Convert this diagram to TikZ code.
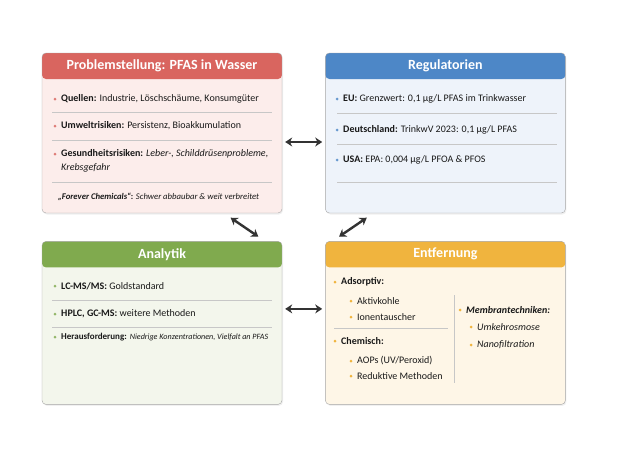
\documentclass[tikz,border=0pt]{standalone}
\usepackage{fontspec}
\setmainfont{Carlito}
\usetikzlibrary{arrows.meta,positioning,shadows}

\definecolor{probHd}{HTML}{D9655F}
\definecolor{probBd}{HTML}{FCEDEB}
\definecolor{regHd}{HTML}{4D87C7}
\definecolor{regBd}{HTML}{EEF3FA}
\definecolor{anaHd}{HTML}{80AA4E}
\definecolor{anaBd}{HTML}{F3F6EC}
\definecolor{entHd}{HTML}{F0B43E}
\definecolor{entBd}{HTML}{FEF6E7}

\begin{document}
\begin{tikzpicture}[x=1pt, y=-1pt, font=\fontsize{10}{12}\selectfont, node distance=28pt and 43pt,
  panel/.style n args={2}{draw=black!35, rounded corners=4pt, minimum width=240pt, minimum height=160pt, fill=#1,
    drop shadow={opacity=0.12, shadow xshift=1pt, shadow yshift=-1.5pt},
    path picture={\fill[#2] (path picture bounding box.north west) rectangle ([yshift=-26pt]path picture bounding box.north east);}},
  ttl/.style={text=white, font=\fontsize{14}{16}\selectfont\bfseries},
  itm/.style={anchor=west, inner sep=0pt, text=black!90},
  sep/.style={draw=black!22, line width=0.6pt},
  dbl/.style={{Stealth[length=7pt,width=9pt]}-{Stealth[length=7pt,width=9pt]}, line width=2.4pt, draw=black!80}]
\useasboundingbox (0,0) rectangle (619,450);

% panels
\node[panel={probBd}{probHd}] (prob) at (162,133) {};
\node[panel={regBd}{regHd}, right=of prob] (reg) {};
\node[panel={anaBd}{anaHd}, minimum height=163pt, below=of prob] (ana) {};
\node[panel={entBd}{entHd}, minimum height=163pt, below=of reg] (ent) {};

\node[ttl] (probT) at ([yshift=-13pt]prob.north) {Problemstellung: PFAS in Wasser};
\node[ttl] (regT) at ([yshift=-13pt]reg.north) {Regulatorien};
\node[ttl] (anaT) at ([yshift=-13pt]ana.north) {Analytik};
\node[ttl] (entT) at ([yshift=-13pt]ent.north) {Entfernung};

% Problemstellung
\foreach \y in {112,140,182} \draw[sep] (52,\y) -- (272,\y);
\foreach \n/\y/\t in {q1/99/{\textbf{Quellen:} Industrie, Löschschäume, Konsumgüter},
    q2/126/{\textbf{Umweltrisiken:} Persistenz, Bioakkumulation},
    q3/154/{\textbf{Gesundheitsrisiken:} \textit{Leber-, Schilddrüsenprobleme,}}}
  {\node[itm] (\n) at (61,\y) {\t};
   \fill[probHd!85] ([xshift=-6pt]\n.west) circle (1.5pt);}
\node[itm] (q4) at (61,168) {\textit{Krebsgefahr}};
\node[itm, font=\fontsize{8.7}{10}\selectfont] (q5) at (58,197)
  {\textbf{\textit{„Forever Chemicals“}:} \textit{Schwer abbaubar \& weit verbreitet}};

% Regulatorien
\foreach \y in {113,144,182} \draw[sep] (337,\y) -- (557,\y);
\foreach \n/\y/\t in {r1/99/{\textbf{EU:} Grenzwert: 0,1 µg/L PFAS im Trinkwasser},
    r2/130/{\textbf{Deutschland:} TrinkwV 2023: 0,1 µg/L PFAS},
    r3/160/{\textbf{USA:} EPA: 0,004 µg/L PFOA \& PFOS}}
  {\node[itm] (\n) at (343,\y) {\t};
   \fill[regHd!85] ([xshift=-6pt]\n.west) circle (1.5pt);}

% Analytik
\foreach \y in {300,327} \draw[sep] (52,\y) -- (272,\y);
\foreach \n/\y/\t in {a1/286/{\textbf{LC-MS/MS:} Goldstandard},
    a2/314/{\textbf{HPLC, GC-MS:} weitere Methoden},
    a3/337/{{\fontsize{9}{10}\selectfont\textbf{Herausforderung:}} {\fontsize{8.1}{10}\selectfont\textit{Niedrige Konzentrationen, Vielfalt an PFAS}}}}
  {\node[itm] (\n) at (61,\y) {\t};
   \fill[anaHd!85] ([xshift=-6pt]\n.west) circle (1.5pt);}

% Entfernung
\draw[sep] (334,328) -- (448,328);
\draw[sep] (454,295) -- (454,383);
\foreach \n/\x/\y/\t in {e1/341/282/{\textbf{Adsorptiv:}},
    e2/357/301/{Aktivkohle},
    e3/357/317/{Ionentauscher},
    e4/341/341/{\textbf{Chemisch:}},
    e5/357/361/{AOPs (UV/Peroxid)},
    e6/357/376/{Reduktive Methoden},
    e7/466/310/{\textbf{\textit{Membrantechniken:}}},
    e8/477/327/{\textit{Umkehrosmose}},
    e9/477/345/{\textit{Nanofiltration}}}
  {\node[itm] (\n) at (\x,\y) {\t};
   \fill[entHd] ([xshift=-6pt]\n.west) circle (1.5pt);}

% connectors
\draw[dbl, shorten <=3pt, shorten >=3pt] ([yshift=-9pt]prob.east) -- ([yshift=-9pt]reg.west);
\draw[dbl, shorten <=3pt, shorten >=3pt] ([yshift=14pt]ana.east) -- ([yshift=14pt]ent.west);
\draw[dbl, shorten <=8pt, shorten >=8pt] ([xshift=62pt]prob.south) -- ([xshift=103pt]ana.north);
\draw[dbl, shorten <=8pt, shorten >=8pt] ([xshift=-72pt]reg.south) -- ([xshift=-113pt]ent.north);
\end{tikzpicture}
\end{document}
